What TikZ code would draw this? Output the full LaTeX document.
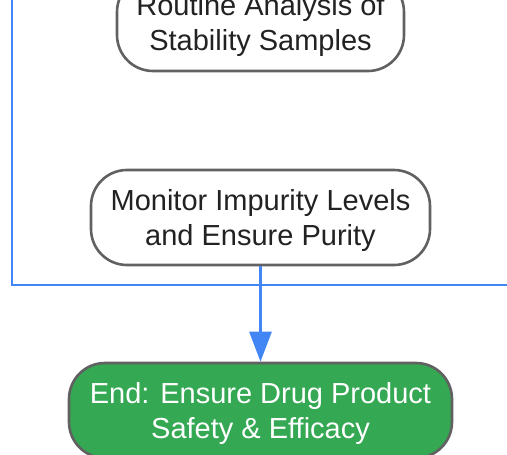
\documentclass[tikz,border=0pt]{standalone}
\usepackage{fontspec}
\setmainfont{Liberation Sans}
\usetikzlibrary{arrows.meta}
\definecolor{flowblue}{HTML}{4285F4}
\definecolor{boxgray}{HTML}{616161}
\definecolor{endgreen}{HTML}{34A853}
\definecolor{txt}{HTML}{222222}
\newcommand{\twoline}[2]{\raisebox{-3pt}[\height][\depth]{\begin{tabular}{@{}c@{}}#1\\#2\end{tabular}}}
\tikzset{
  stepbox/.style={draw=boxgray, line width=2.6pt, rounded corners=36pt, fill=white,
    text=txt, align=center, inner sep=0pt,
    font=\fontsize{29}{35}\selectfont, minimum height=95pt},
  endbox/.style={stepbox, fill=endgreen, text=white},
  flow/.style={draw=flowblue, line width=2.8pt},
  flowarrow/.style={flow, -{Triangle[length=30pt,width=22pt]}}
}
\begin{document}
\begin{tikzpicture}[x=1pt,y=-1pt]
\useasboundingbox (0,0) rectangle (507,455);
\clip (0,0) rectangle (507,455);
\node[stepbox, minimum width=287pt] (rout) at (260.5,23.5) {\twoline{Routine Analysis of}{Stability Samples}};
\node[stepbox, minimum width=339pt] (mon) at (260.5,217.5) {\twoline{Monitor Impurity Levels}{and Ensure Purity}};
\node[endbox, minimum width=383pt] (end) at (260.5,410.5) {\twoline{End: Ensure Drug Product}{Safety \& Efficacy}};
\coordinate (tl) at (12,-20);
\coordinate (tr) at (520,285);
\draw[flow] (tl) |- (tr);
\draw[flowarrow] (mon.south) -- (end.north);
\end{tikzpicture}
\end{document}
